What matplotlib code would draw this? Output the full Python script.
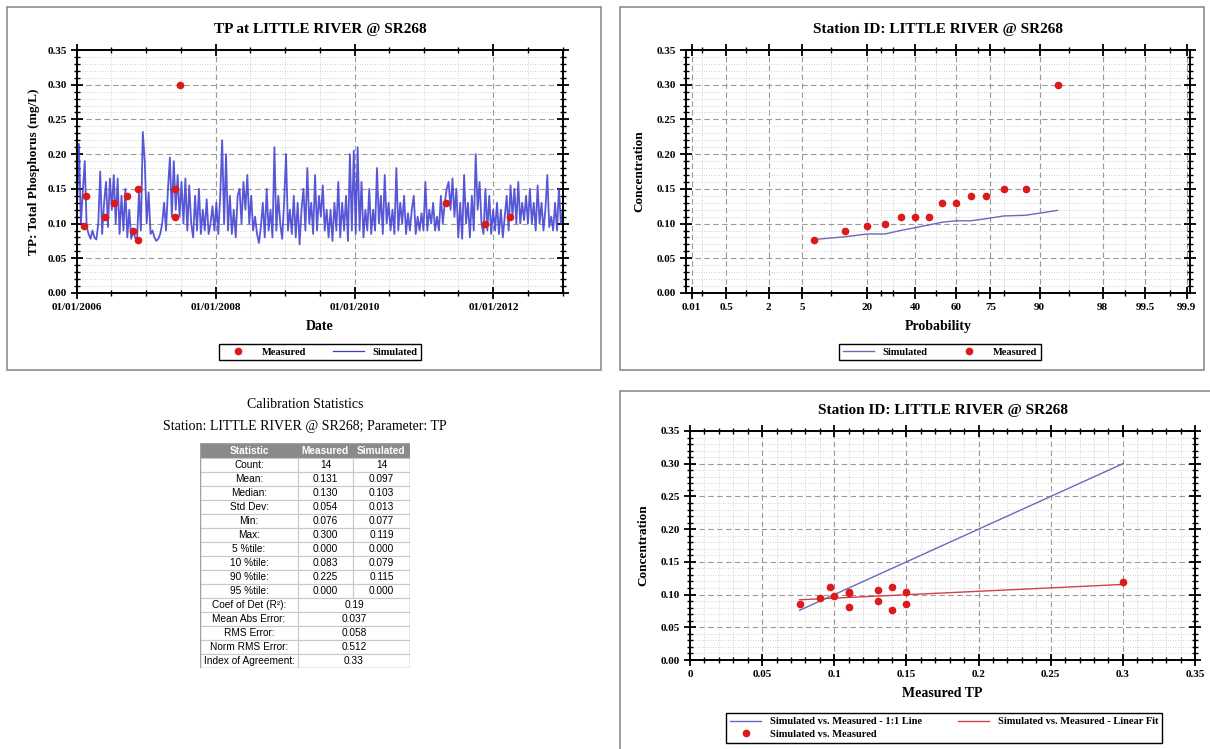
import statistics
import numpy as np
import pandas as pd
import matplotlib
matplotlib.use("Agg")
import matplotlib.pyplot as plt
import matplotlib.dates as mdates
from matplotlib.patches import Rectangle
from matplotlib.lines import Line2D
from matplotlib.ticker import MultipleLocator, FixedLocator, FuncFormatter

plt.rcParams["font.family"] = ["Liberation Serif", "DejaVu Serif"]
plt.rcParams["font.weight"] = "bold"

STATION = "LITTLE RIVER @ SR268"

# simulated TP (mg/L), about three values a month
sim_2006 = [0.12, 0.215, 0.10, 0.145, 0.19, 0.095, 0.085, 0.078, 0.09, 0.08, 0.077, 0.10,
            0.175, 0.085, 0.13, 0.16, 0.095, 0.165, 0.12, 0.17, 0.10, 0.165, 0.085, 0.14,
            0.09, 0.15, 0.08, 0.12, 0.078, 0.09, 0.08, 0.075, 0.145, 0.09, 0.232, 0.19]
sim_2007 = [0.10, 0.145, 0.085, 0.09, 0.08, 0.075, 0.078, 0.085, 0.10, 0.13, 0.09, 0.15,
            0.195, 0.11, 0.19, 0.12, 0.17, 0.11, 0.16, 0.10, 0.165, 0.09, 0.155, 0.10,
            0.08, 0.14, 0.09, 0.15, 0.085, 0.12, 0.09, 0.135, 0.085, 0.10, 0.125, 0.09]
sim_2008 = [0.13, 0.085, 0.14, 0.22, 0.10, 0.20, 0.09, 0.14, 0.085, 0.12, 0.08, 0.14,
            0.15, 0.10, 0.16, 0.12, 0.17, 0.10, 0.14, 0.09, 0.11, 0.085, 0.072, 0.095,
            0.13, 0.08, 0.15, 0.09, 0.12, 0.08, 0.21, 0.09, 0.14, 0.10, 0.078, 0.13]
sim_2009 = [0.20, 0.09, 0.12, 0.085, 0.14, 0.08, 0.13, 0.07, 0.12, 0.15, 0.09, 0.18,
            0.10, 0.13, 0.085, 0.17, 0.09, 0.14, 0.11, 0.155, 0.09, 0.12, 0.08, 0.12,
            0.075, 0.13, 0.09, 0.16, 0.08, 0.13, 0.09, 0.14, 0.075, 0.20, 0.09, 0.205]
sim_2010 = [0.085, 0.21, 0.09, 0.16, 0.08, 0.12, 0.09, 0.15, 0.085, 0.12, 0.09, 0.18,
            0.10, 0.14, 0.085, 0.17, 0.10, 0.13, 0.09, 0.12, 0.085, 0.18, 0.09, 0.13,
            0.10, 0.14, 0.085, 0.115, 0.09, 0.12, 0.14, 0.085, 0.11, 0.09, 0.115, 0.09]
sim_2011 = [0.16, 0.09, 0.12, 0.10, 0.13, 0.09, 0.11, 0.09, 0.14, 0.10, 0.13, 0.15,
            0.16, 0.12, 0.165, 0.11, 0.15, 0.08, 0.13, 0.078, 0.17, 0.10, 0.13, 0.08,
            0.14, 0.09, 0.20, 0.12, 0.16, 0.10, 0.085, 0.15, 0.09, 0.14, 0.085, 0.12]
sim_2012 = [0.09, 0.13, 0.085, 0.12, 0.08, 0.11, 0.14, 0.09, 0.155, 0.11, 0.15, 0.10,
            0.16, 0.10, 0.13, 0.105, 0.14, 0.10, 0.15, 0.10, 0.13, 0.09, 0.155, 0.10,
            0.13, 0.09, 0.12, 0.17, 0.095, 0.11, 0.09, 0.13, 0.09, 0.15, 0.10, 0.12]
sim_tp = sim_2006 + sim_2007 + sim_2008 + sim_2009 + sim_2010 + sim_2011 + sim_2012

# measured samples and the simulated value on the same day
meas_dates = ["2006-02-06", "2006-02-16", "2006-05-28", "2006-07-15", "2006-09-20",
              "2006-10-22", "2006-11-16", "2006-11-20", "2007-06-01", "2007-06-03",
              "2007-06-28", "2011-04-27", "2011-11-16", "2012-03-27"]
meas_tp = [0.097, 0.14, 0.11, 0.13, 0.14, 0.09, 0.15, 0.076, 0.15, 0.11, 0.30, 0.13, 0.10, 0.11]
sim_at_meas = [0.111, 0.112, 0.104, 0.107, 0.077, 0.094, 0.104, 0.085, 0.085, 0.081,
               0.119, 0.090, 0.098, 0.102]

# probability axis
prob_labels = ["0.01", "0.5", "2", "5", "20", "40", "60", "75", "90", "98", "99.5", "99.9"]
prob_label_pos = [0.135, 0.5, 2, 5, 20, 40, 60, 75, 90, 98, 99.5, 99.9]
prob_minor = [0.2, 1, 10, 25, 30, 50, 70, 80, 95, 99, 99.8]

# calibration statistics table
stat_names = ["Count:", "Mean:", "Median:", "Std Dev:", "Min:", "Max:",
              "5 %tile:", "10 %tile:", "90 %tile:", "95 %tile:"]
stat_meas = ["14", "0.131", "0.130", "0.054", "0.076", "0.300", "0.000", "0.083", "0.225", "0.000"]
stat_sim = ["14", "0.097", "0.103", "0.013", "0.077", "0.119", "0.000", "0.079", "0.115", "0.000"]
fit_names = ["Coef of Det (R²):", "Mean Abs Error:", "RMS Error:", "Norm RMS Error:",
             "Index of Agreement:"]
fit_vals = ["0.19", "0.037", "0.058", "0.512", "0.33"]

W, H = 1210, 749
RED = "#dd1a1a"


def box(x0, y0, x1, y1):
    """figure-pixel box (top-left origin) -> axes rect"""
    return [x0 / W, 1 - y1 / H, (x1 - x0) / W, (y1 - y0) / H]


def probit(p):
    nd = statistics.NormalDist()
    return np.array([nd.inv_cdf(v / 100.0) for v in np.atleast_1d(p)])


def style_axes(ax):
    for s in ax.spines.values():
        s.set_linewidth(1.4)
    ax.tick_params(which="major", direction="inout", length=8, width=1.3,
                   top=True, right=True, labelsize=8, pad=3)
    ax.tick_params(which="minor", direction="inout", length=5, width=1.0,
                   top=True, right=True)
    ax.grid(which="major", ls=(0, (5, 3)), color="#9a9a9a", lw=0.8)
    ax.grid(which="minor", ls=(0, (1, 2)), color="#c4c4c4", lw=0.6)
    ax.set_axisbelow(True)
    ax.set_ylim(0, 0.35)
    ax.yaxis.set_major_locator(MultipleLocator(0.05))
    ax.yaxis.set_minor_locator(MultipleLocator(0.01))
    ax.yaxis.set_major_formatter(FuncFormatter(lambda v, _: f"{v:.2f}"))
    for t in ax.get_xticklabels() + ax.get_yticklabels():
        t.set_fontweight("bold")


def legend_at(ax, handles, labels, cx, cy, ncol, colsp=2.5):
    leg = ax.legend(handles, labels, loc="center", bbox_to_anchor=(cx / W, 1 - cy / H),
                    bbox_transform=ax.figure.transFigure, ncol=ncol, fancybox=False,
                    framealpha=1, edgecolor="black", prop={"size": 7.5, "weight": "bold"},
                    handlelength=3, columnspacing=colsp, borderpad=0.35, labelspacing=0.35)
    leg.get_frame().set_linewidth(1.0)


fig = plt.figure(figsize=(W / 100, H / 100), dpi=100)

# panel frames
for x0, y0, x1, y1 in [(7, 7, 601, 370), (620, 7, 1204, 370), (620, 391, 1214, 755)]:
    fig.add_artist(Rectangle((x0 / W, 1 - y1 / H), (x1 - x0) / W, (y1 - y0) / H,
                             transform=fig.transFigure, fill=False, ec="#8c8c8c", lw=1.2))

# ---- time series ----
ax1 = fig.add_axes(box(77, 50, 563, 293))
sim_dates = pd.date_range("2006-01-01", "2012-12-31", periods=len(sim_tp))
ax1.plot(sim_dates, sim_tp, color="#3a3ad2", lw=1.3, alpha=0.85, zorder=2)
ax1.plot(pd.to_datetime(meas_dates), meas_tp, "o", color=RED, ms=4.5, zorder=3)
ax1.set_xlim(pd.Timestamp("2006-01-01"), pd.Timestamp("2013-01-01"))
ax1.xaxis.set_major_locator(mdates.YearLocator(2))
ax1.xaxis.set_minor_locator(mdates.MonthLocator(bymonth=(1, 7)))
ax1.xaxis.set_major_formatter(mdates.DateFormatter("%m/%d/%Y"))
style_axes(ax1)
ax1.set_title(f"TP at {STATION}", fontsize=11, fontweight="bold", pad=12)
ax1.set_xlabel("Date", fontsize=10, fontweight="bold", labelpad=6)
ax1.set_ylabel("TP: Total Phosphorus (mg/L)", fontsize=9.5, fontweight="bold", labelpad=6)
legend_at(ax1, [Line2D([], [], ls="", marker="o", color=RED, ms=4.5),
                Line2D([], [], color="#3a3ad2", lw=0.9)],
          ["Measured", "Simulated"], 320, 352, 2)

# ---- probability plot ----
ax2 = fig.add_axes(box(686, 50, 1190, 293))
n = len(meas_tp)
plot_pos = np.arange(1, n + 1) / (n + 1) * 100
ax2.plot(probit(plot_pos), np.sort(sim_at_meas), color="#6a6ab8", lw=1.0, zorder=2)
ax2.plot(probit(plot_pos), np.sort(meas_tp), "o", color=RED, ms=4.5, zorder=3)
ax2.set_xlim(-3.07, 3.13)
ax2.xaxis.set_major_locator(FixedLocator(probit(prob_label_pos)))
ax2.xaxis.set_minor_locator(FixedLocator(probit(prob_minor)))
ax2.set_xticklabels(prob_labels)
style_axes(ax2)
ax2.set_title(f"Station ID: {STATION}", fontsize=11, fontweight="bold", pad=12)
ax2.set_xlabel("Probability", fontsize=10, fontweight="bold", labelpad=6)
ax2.set_ylabel("Concentration", fontsize=9.5, fontweight="bold", labelpad=8)
legend_at(ax2, [Line2D([], [], color="#6a6ab8", lw=1.0),
                Line2D([], [], ls="", marker="o", color=RED, ms=4.5)],
          ["Simulated", "Measured"], 940, 352, 2)

# ---- scatter ----
ax3 = fig.add_axes(box(690, 431, 1195, 660))
mx = np.array(meas_tp)
sy = np.array(sim_at_meas)
xs = np.array([mx.min(), mx.max()])
slope, icpt = np.polyfit(mx, sy, 1)
h1, = ax3.plot(xs, xs, color="#6a6ab8", lw=1.0, zorder=2)
h2, = ax3.plot(xs, slope * xs + icpt, color="#d04050", lw=1.0, zorder=2)
h3, = ax3.plot(mx, sy, "o", color=RED, ms=4.5, zorder=3)
ax3.set_xlim(0, 0.35)
ax3.xaxis.set_major_locator(MultipleLocator(0.05))
ax3.xaxis.set_minor_locator(MultipleLocator(0.01))
ax3.xaxis.set_major_formatter(FuncFormatter(lambda v, _: f"{v:g}"))
style_axes(ax3)
ax3.set_title(f"Station ID: {STATION}", fontsize=11, fontweight="bold", pad=12)
ax3.set_xlabel("Measured TP", fontsize=10, fontweight="bold", labelpad=6)
ax3.set_ylabel("Concentration", fontsize=9.5, fontweight="bold", labelpad=8)
legend_at(ax3, [h1, h3, h2],
          ["Simulated vs. Measured - 1:1 Line", "Simulated vs. Measured",
           "Simulated vs. Measured - Linear Fit"], 944, 728, 2, colsp=3.5)

# ---- statistics table ----
fig.text(305 / W, 1 - 404 / H, "Calibration Statistics", ha="center", va="center",
         fontsize=10, fontweight="normal")
fig.text(305 / W, 1 - 427 / H, f"Station: {STATION}; Parameter: TP", ha="center",
         va="center", fontsize=10, fontweight="normal")

col_w = [98, 55, 57]
hdr_h, row_h = 15, 14
tw = sum(col_w)
th = hdr_h + row_h * (len(stat_names) + len(fit_names))
axt = fig.add_axes(box(200, 443, 200 + tw, 443 + th))
axt.set_xlim(0, tw)
axt.set_ylim(th, 0)
axt.axis("off")
tkw = dict(ha="center", va="center", fontsize=7.3, family="Liberation Sans", fontweight="normal")
grid_c = "#c8c8c8"

axt.add_patch(Rectangle((0, 0), tw, hdr_h, fc="#8a8a8a", ec="none"))
xs_col = np.cumsum([0] + col_w)
for i, lab in enumerate(["Statistic", "Measured", "Simulated"]):
    axt.text((xs_col[i] + xs_col[i + 1]) / 2, hdr_h / 2, lab,
             **{**tkw, "color": "white", "fontweight": "bold"})

for r, (nm, m, s) in enumerate(zip(stat_names, stat_meas, stat_sim)):
    y = hdr_h + r * row_h
    for i, txt in enumerate([nm, m, s]):
        axt.add_patch(Rectangle((xs_col[i], y), col_w[i], row_h, fc="white", ec=grid_c, lw=0.8))
        axt.text((xs_col[i] + xs_col[i + 1]) / 2, y + row_h / 2, txt, **tkw)

for r, (nm, v) in enumerate(zip(fit_names, fit_vals)):
    y = hdr_h + (len(stat_names) + r) * row_h
    axt.add_patch(Rectangle((0, y), col_w[0], row_h, fc="white", ec=grid_c, lw=0.8))
    axt.add_patch(Rectangle((col_w[0], y), tw - col_w[0], row_h, fc="white", ec=grid_c, lw=0.8))
    axt.text(col_w[0] / 2, y + row_h / 2, nm, **tkw)
    axt.text((col_w[0] + tw) / 2, y + row_h / 2, v, **tkw)
axt.add_patch(Rectangle((0, 0), tw, th, fill=False, ec="#a0a0a0", lw=1.0))

fig.savefig("out.png", dpi=100)
